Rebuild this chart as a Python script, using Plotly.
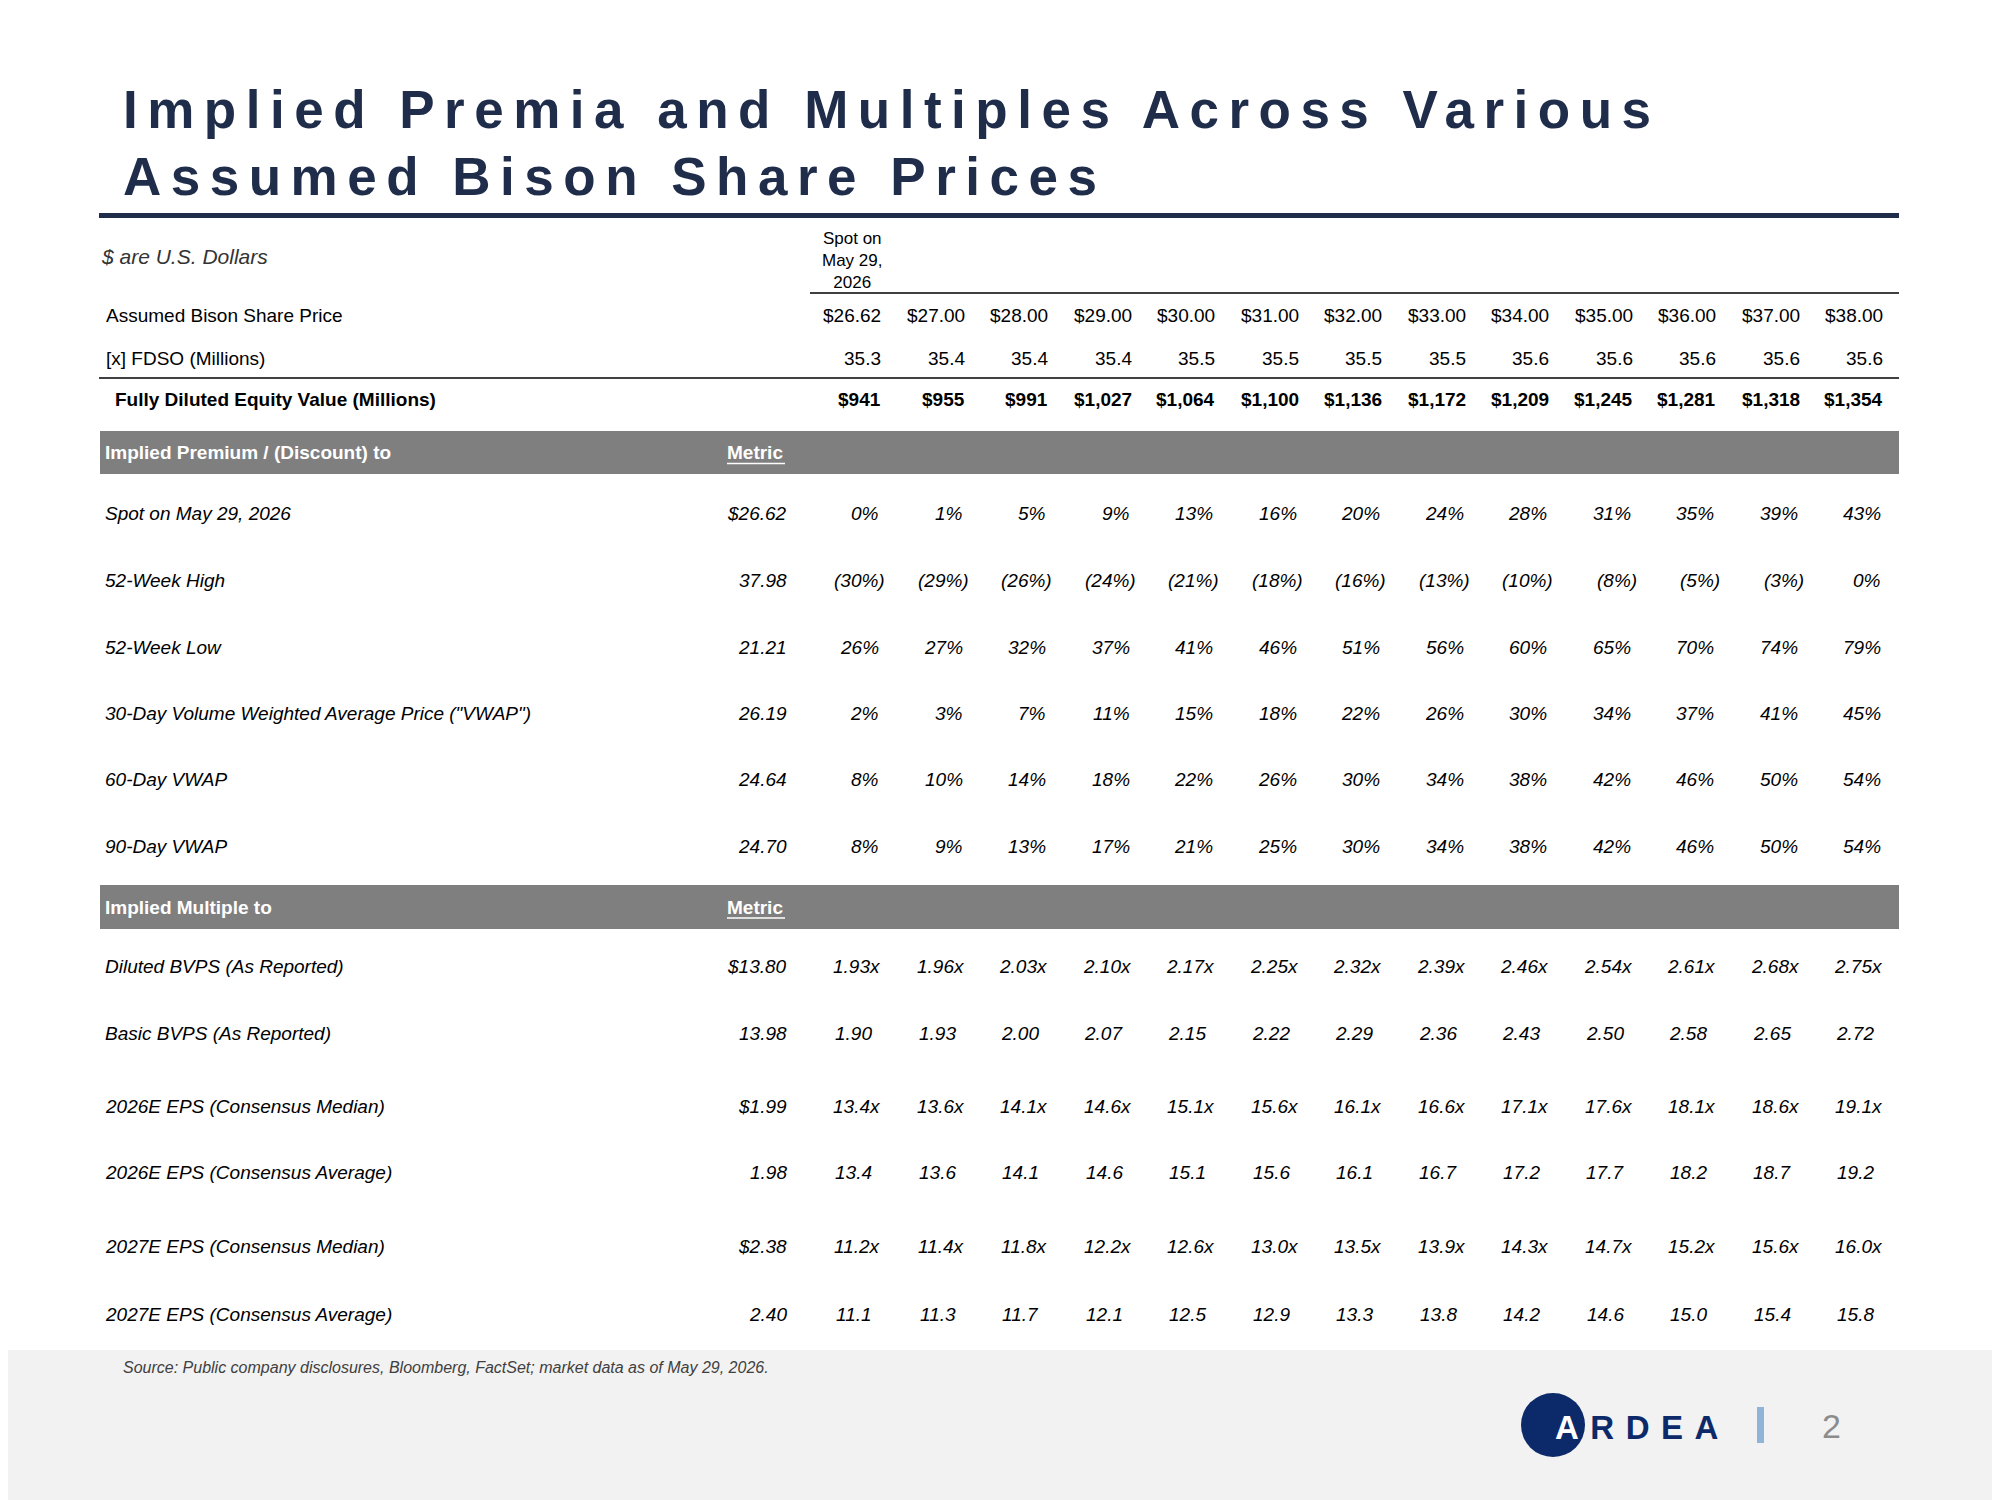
import plotly.graph_objects as go

# ---- data ----
title_lines = ["Implied Premia and Multiples Across Various", "Assumed Bison Share Prices"]
spot_header = "Spot on<br>May 29,<br>2026"

share_prices = [26.62, 27.00, 28.00, 29.00, 30.00, 31.00, 32.00, 33.00, 34.00, 35.00, 36.00, 37.00, 38.00]
fdso = [35.3, 35.4, 35.4, 35.4, 35.5, 35.5, 35.5, 35.5, 35.6, 35.6, 35.6, 35.6, 35.6]
equity_value = [941, 955, 991, 1027, 1064, 1100, 1136, 1172, 1209, 1245, 1281, 1318, 1354]

premium_labels = ["Spot on May 29, 2026", "52-Week High", "52-Week Low",
                  "30-Day Volume Weighted Average Price (\"VWAP\")", "60-Day VWAP", "90-Day VWAP"]
premium_metrics = ["$26.62", "37.98", "21.21", "26.19", "24.64", "24.70"]
premium_values = [
    [0, 1, 5, 9, 13, 16, 20, 24, 28, 31, 35, 39, 43],
    [-30, -29, -26, -24, -21, -18, -16, -13, -10, -8, -5, -3, 0],
    [26, 27, 32, 37, 41, 46, 51, 56, 60, 65, 70, 74, 79],
    [2, 3, 7, 11, 15, 18, 22, 26, 30, 34, 37, 41, 45],
    [8, 10, 14, 18, 22, 26, 30, 34, 38, 42, 46, 50, 54],
    [8, 9, 13, 17, 21, 25, 30, 34, 38, 42, 46, 50, 54],
]

multiple_labels = ["Diluted BVPS (As Reported)", "Basic BVPS (As Reported)",
                   "2026E EPS (Consensus Median)", "2026E EPS (Consensus Average)",
                   "2027E EPS (Consensus Median)", "2027E EPS (Consensus Average)"]
multiple_metrics = ["$13.80", "13.98", "$1.99", "1.98", "$2.38", "2.40"]
multiple_values = [
    [1.93, 1.96, 2.03, 2.10, 2.17, 2.25, 2.32, 2.39, 2.46, 2.54, 2.61, 2.68, 2.75],
    [1.90, 1.93, 2.00, 2.07, 2.15, 2.22, 2.29, 2.36, 2.43, 2.50, 2.58, 2.65, 2.72],
    [13.4, 13.6, 14.1, 14.6, 15.1, 15.6, 16.1, 16.6, 17.1, 17.6, 18.1, 18.6, 19.1],
    [13.4, 13.6, 14.1, 14.6, 15.1, 15.6, 16.1, 16.7, 17.2, 17.7, 18.2, 18.7, 19.2],
    [11.2, 11.4, 11.8, 12.2, 12.6, 13.0, 13.5, 13.9, 14.3, 14.7, 15.2, 15.6, 16.0],
    [11.1, 11.3, 11.7, 12.1, 12.5, 12.9, 13.3, 13.8, 14.2, 14.6, 15.0, 15.4, 15.8],
]
multiple_decimals = [2, 2, 1, 1, 1, 1]
multiple_with_x = [True, False, True, False, True, False]

source_note = "Source: Public company disclosures, Bloomberg, FactSet; market data as of May 29, 2026."

# ---- layout helpers ----
NAVY = "#1f2d4b"
LOGO_NAVY = "#0c2a6a"
FONT = "Liberation Sans, Arial, sans-serif"
W, H = 2000, 1500
PAGE_PAD = 8  # body margin of the html page, compensated in the axis ranges
col_right = [887 + 83.5 * i for i in range(len(share_prices))]
metric_right = 789
fs = 19

fig = go.Figure()
fig.add_trace(go.Scatter(x=[0, W], y=[0, H], mode="markers", marker=dict(opacity=0), hoverinfo="skip"))


def txt(x, y, s, size=fs, color="#000000", anchor="left", bold=False, italic=False, family=FONT):
    if bold:
        s = "<b>" + s + "</b>"
    if italic:
        s = "<i>" + s + "</i>"
    fig.add_annotation(x=x, y=y, xref="x", yref="y", text=s, showarrow=False,
                       xanchor=anchor, yanchor="middle",
                       font=dict(family=family, size=size, color=color))


def hline(x0, x1, y, width=1.5, color="#000000"):
    fig.add_shape(type="line", x0=x0, x1=x1, y0=y, y1=y, xref="x", yref="y",
                  line=dict(color=color, width=width))


def rect(x0, x1, y0, y1, color):
    fig.add_shape(type="rect", x0=x0, x1=x1, y0=y0, y1=y1, xref="x", yref="y",
                  fillcolor=color, line=dict(width=0), layer="below")


# footer band
rect(0, W + PAGE_PAD, 1350, H + PAGE_PAD, "#f2f2f2")

# title
for i, line in enumerate(title_lines):
    txt(121, 109 + i * 67, '<span style="letter-spacing:9.5px">' + line + '</span>',
        size=53, color=NAVY, bold=True)
fig.add_shape(type="rect", x0=99, x1=1899, y0=213, y1=218, xref="x", yref="y",
              fillcolor=NAVY, line=dict(width=0))

# top block
txt(99, 256, "$ are U.S. Dollars", size=21, color="#333333", italic=True)
txt(col_right[0] - 35, 260, spot_header, size=17, anchor="center")
hline(810, 1899, 293)

top_y = [315, 358, 399]
txt(104, top_y[0], "Assumed Bison Share Price")
txt(104, top_y[1], "[x] FDSO (Millions)")
txt(113, top_y[2], "Fully Diluted Equity Value (Millions)", bold=True)
for i, r in enumerate(col_right):
    txt(r - 4, top_y[0], "${:.2f}".format(share_prices[i]), anchor="right")
    txt(r - 4, top_y[1], "{:.1f}".format(fdso[i]), anchor="right")
    txt(r - 4, top_y[2], "${:,.0f}".format(equity_value[i]), anchor="right", bold=True)
hline(99, 1899, 378)


def section_header(y0, y1, label):
    rect(100, 1899, y0, y1, "#7f7f7f")
    yc = (y0 + y1) / 2
    txt(103, yc, label, color="#ffffff", bold=True)
    txt(metric_right - 4, yc, "Metric", color="#ffffff", bold=True, anchor="right")
    hline(metric_right - 62, metric_right - 4, yc + 11, width=1.5, color="#ffffff")


# premium section
section_header(431, 474, "Implied Premium / (Discount) to")
prem_y = [513, 580, 647, 713, 779, 846]
for k, lab in enumerate(premium_labels):
    y = prem_y[k]
    txt(103, y, lab, italic=True)
    txt(metric_right, y, premium_metrics[k], italic=True, anchor="right")
    for i, r in enumerate(col_right):
        v = premium_values[k][i]
        if v < 0:
            txt(r, y, "({}%)".format(-v), italic=True, anchor="right")
        else:
            txt(r - 6, y, "{}%".format(v), italic=True, anchor="right")

# multiples section
section_header(885, 929, "Implied Multiple to")
mult_y = [966, 1033, 1106, 1172, 1246, 1314]
for k, lab in enumerate(multiple_labels):
    y = mult_y[k]
    txt(103, y, lab, italic=True)
    txt(metric_right, y, multiple_metrics[k], italic=True, anchor="right")
    fmt = "{:." + str(multiple_decimals[k]) + "f}"
    for i, r in enumerate(col_right):
        s = fmt.format(multiple_values[k][i])
        if multiple_with_x[k]:
            txt(r - 4, y, s + "x", italic=True, anchor="right")
        else:
            txt(r - 13, y, s, italic=True, anchor="right")

# footer
txt(121, 1367, source_note, size=16, color="#404040", italic=True)
fig.add_shape(type="circle", x0=1521, x1=1585, y0=1393, y1=1457, xref="x", yref="y",
              fillcolor=LOGO_NAVY, line=dict(width=0))
txt(1553, 1427, '<span style="letter-spacing:11.5px"><span style="color:#ffffff">A</span>RDEA</span>',
    size=33, color=LOGO_NAVY, bold=True)
fig.add_shape(type="rect", x0=1757, x1=1764, y0=1407, y1=1443, xref="x", yref="y",
              fillcolor="#8fb4d8", line=dict(width=0))
txt(1831, 1426, "2", size=34, color="#8c8c8c", anchor="center")

fig.update_xaxes(range=[PAGE_PAD, W + PAGE_PAD], visible=False, fixedrange=True)
fig.update_yaxes(range=[H + PAGE_PAD, PAGE_PAD], visible=False, fixedrange=True)
fig.update_layout(width=W, height=H, margin=dict(l=0, r=0, t=0, b=0),
                  paper_bgcolor="#ffffff", plot_bgcolor="#ffffff", showlegend=False)

fig.write_html("out.html")
